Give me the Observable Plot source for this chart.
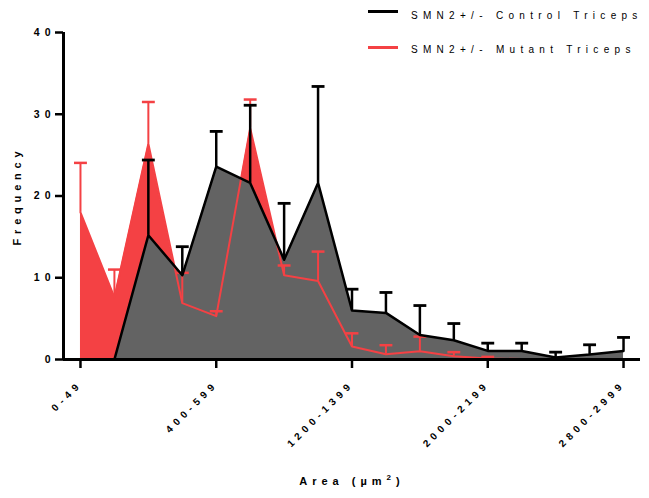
<!DOCTYPE html>
<html><head><meta charset="utf-8">
<script src="https://cdn.jsdelivr.net/npm/d3@7"></script>
<script src="https://cdn.jsdelivr.net/npm/@observablehq/plot@0.6"></script>
<style>
body{margin:0;background:#fff;font-family:"Liberation Sans",Arial,sans-serif;}
#wrap{position:relative;width:649px;height:498px;}
.sw{position:absolute;left:368px;width:30px;height:3px;}
.lt{position:absolute;left:411px;font-size:10px;letter-spacing:5.3px;color:#000;white-space:nowrap;line-height:12px;}
</style></head><body><div id="wrap">
<div class="sw" style="top:10px;background:#000"></div>
<div class="lt" style="top:9.5px">SMN2+/- Control Triceps</div>
<div class="sw" style="top:46px;background:#f44144"></div>
<div class="lt" style="top:44px">SMN2+/- Mutant Triceps</div>
</div>
<script>
const categories = ["0-49","50-99","100-199","200-399","400-599","600-799","800-999","1000-1199","1200-1399","1400-1599","1600-1799","1800-1999","2000-2199","2200-2399","2400-2599","2600-2799","2800-2999"];
const controlMean = [0,0,15.2,10.3,23.6,21.6,12.2,21.6,6.0,5.7,3.0,2.35,1.05,1.05,0.25,0.6,1.05];
const controlErr  = [0,0,9.2,3.5,4.3,9.5,6.9,11.8,2.6,2.5,3.6,2.05,0.95,0.95,0.65,1.2,1.65];
const mutantMean  = [18.0,7.6,26.4,6.9,5.3,28.3,10.3,9.6,1.6,0.65,1.0,0.4,0.12,0.05,0,0,0];
const mutantErr   = [6.05,3.4,5.1,3.7,0.6,3.5,1.2,3.6,1.6,1.1,1.8,0.5,0.2,0,0,0,0];
const yTicks = [0,10,20,30,40];
const xLabelIdx = [0,4,8,12,16];

const RED = "#f44144", GRAY = "#636363", CAP = 0.19;
const data = categories.map((c,i)=>({i, c, cm:controlMean[i], ce:controlErr[i], mm:mutantMean[i], me:mutantErr[i]}));
const ctrl = data.filter(d=>d.i>=1);
const mErr = data.filter(d=>d.me>0);
const cErr = data.filter(d=>d.ce>0);

const chart = Plot.plot({
  width:649, height:498, marginLeft:63, marginRight:9, marginTop:32, marginBottom:139,
  x:{domain:[-0.5,16.5], axis:null}, y:{domain:[0,40], axis:null},
  style:{fontFamily:"'Liberation Sans', Arial, sans-serif", fontSize:"10px", fontWeight:"bold", color:"#000", background:"#fff"},
  marks:[
    Plot.areaY(data,{x:"i",y:"mm",fill:RED}),
    Plot.areaY(ctrl,{x:"i",y:"cm",fill:GRAY}),
    Plot.ruleX(mErr,{x:"i",y1:"mm",y2:d=>d.mm+d.me,stroke:RED,strokeWidth:2}),
    Plot.link(mErr,{x1:d=>d.i-CAP,x2:d=>d.i+CAP,y1:d=>d.mm+d.me,y2:d=>d.mm+d.me,stroke:RED,strokeWidth:2.5}),
    Plot.lineY(data,{x:"i",y:"mm",stroke:RED,strokeWidth:2}),
    Plot.ruleX(cErr,{x:"i",y1:"cm",y2:d=>d.cm+d.ce,stroke:"#000",strokeWidth:2.5}),
    Plot.link(cErr,{x1:d=>d.i-CAP,x2:d=>d.i+CAP,y1:d=>d.cm+d.ce,y2:d=>d.cm+d.ce,stroke:"#000",strokeWidth:2.8}),
    Plot.lineY(ctrl,{x:"i",y:"cm",stroke:"#000",strokeWidth:2.5}),
    Plot.axisY({ticks:yTicks, tickSize:8, tickPadding:0, label:null, strokeWidth:2.5, fontSize:10.5}),
    Plot.axisX({ticks:xLabelIdx, tickFormat:i=>categories[i], tickRotate:-45, tickSize:9, tickPadding:14, label:null, strokeWidth:2.5, fontSize:10}),
    Plot.ruleY([0],{stroke:"#000",strokeWidth:3}),
    Plot.ruleX([-0.5],{y1:0,y2:40,stroke:"#000",strokeWidth:3}),
    Plot.text(["Area (µm²)"],{frameAnchor:"bottom",dy:125,fontSize:11,fontWeight:"bold"}),
    Plot.text(["Frequency"],{frameAnchor:"left",dx:-46,rotate:-90,textAnchor:"middle",fontSize:11,fontWeight:"bold"})
  ]
});
document.getElementById("wrap").prepend(chart);
chart.style.position="absolute"; chart.style.left="0"; chart.style.top="0";
d3.select(chart).selectAll("text").each(function(){
  const t = this.textContent;
  if (t === "Area (µm²)") {
    this.style.letterSpacing = "5px";
    this.textContent = "Area (µm";
    d3.select(this).append("tspan").attr("dy","-5").attr("font-size","8").text("2");
    d3.select(this).append("tspan").attr("dy","5").text(")");
  } else if (t === "Frequency") this.style.letterSpacing = "4.8px";
  else if (categories.includes(t)) this.style.letterSpacing = "4.6px";
  else this.style.letterSpacing = "5px";
});
</script>
</body></html>
